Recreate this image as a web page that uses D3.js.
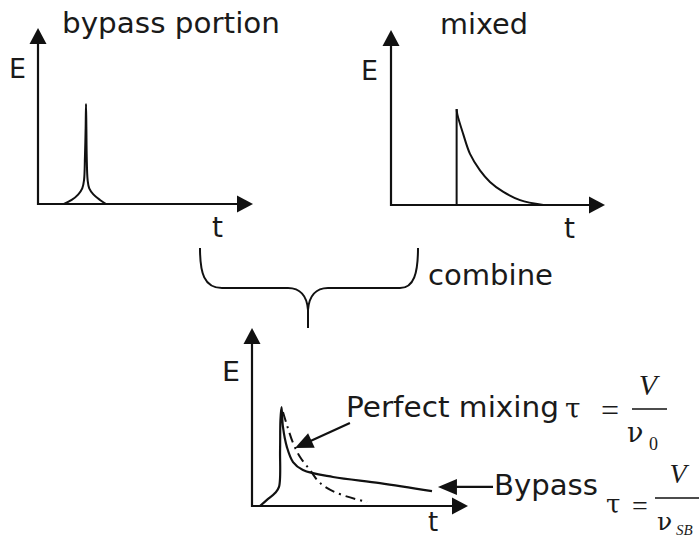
<!DOCTYPE html>
<html>
<head>
<meta charset="utf-8">
<script src="https://cdn.jsdelivr.net/npm/d3@7/dist/d3.min.js"></script>
<style>
html,body{margin:0;padding:0;background:#fff;}
svg{display:block;}
</style>
</head>
<body>
<svg id="chart" width="699" height="539"></svg>
<script>
// ---------- data (t, E in arbitrary units) ----------
const panelTitles = ["bypass portion", "mixed"];
const axisLabelE = "E";
const axisLabelT = "t";
const combineLabel = "combine";
const perfectLabel = "Perfect mixing";
const bypassLabel = "Bypass";

// top-left: bypass spike
const spikeT = [1.45, 1.88, 2.25, 2.47, 2.57, 2.62, 2.66, 2.68, 2.70, 2.72, 2.77, 2.86, 3.09, 3.46, 3.80];
const spikeE = [0.00, 0.23, 0.55, 0.89, 1.36, 2.69, 4.39, 5.68, 4.39, 2.69, 1.36, 0.89, 0.55, 0.23, 0.00];

// top-right: mixed (CSTR) response
const mixedT = [3.68, 3.68, 3.72, 4.05, 4.43, 4.99, 5.55, 6.30, 7.24, 8.54];
const mixedE = [0.00, 5.48, 5.18, 4.05, 2.92, 1.98, 1.32, 0.75, 0.28, 0.00];

// bottom: combined response with bypass (solid)
const bypassT = [0.44, 0.83, 1.28, 1.50, 1.56, 1.58, 1.64, 1.72, 1.94, 2.28, 2.83, 4.50, 7.11, 10.0];
const bypassE = [0.00, 0.34, 0.73, 1.07, 3.15, 4.83, 5.56, 4.44, 3.31, 2.47, 2.02, 1.63, 1.29, 0.84];

// bottom: perfect mixing (dash-dot)
const perfectT = [1.72, 1.94, 2.28, 2.67, 3.22, 3.78, 4.72, 6.39];
const perfectE = [5.28, 4.55, 3.54, 2.75, 2.02, 1.29, 0.73, 0.22];

// annotation arrows in bottom-panel units: [tailT, tailE, tipT, tipE]
const perfectArrow = [5.44, 4.66, 2.39, 3.26];
const bypassArrow = [13.39, 1.07, 10.33, 1.07];

// ---------- drawing ----------
const svg = d3.select("#chart");
const ink = "#111";
const sans = "'DejaVu Sans', Verdana, sans-serif";
const serif = "'Liberation Serif', 'Times New Roman', serif";
const greek = "'DejaVu Serif', serif";

function arrowHead(g, x1, y1, x2, y2, len, half) {
  const dx = x2 - x1, dy = y2 - y1, d = Math.hypot(dx, dy);
  const ux = dx / d, uy = dy / d;
  const bx = x2 - ux * len, by = y2 - uy * len;
  g.append("line").attr("x1", x1).attr("y1", y1).attr("x2", bx + ux).attr("y2", by + uy)
    .attr("stroke", ink).attr("stroke-width", 2.2);
  g.append("path")
    .attr("d", `M${x2},${y2}L${bx - uy * half},${by + ux * half}L${bx + uy * half},${by - ux * half}Z`)
    .attr("fill", ink);
}

function panel(cfg) {
  const x = d3.scaleLinear().domain([0, 12]).range([cfg.x0, cfg.x1]);
  const y = d3.scaleLinear().domain([0, 10]).range([cfg.y0, cfg.y1]);
  const g = svg.append("g");
  arrowHead(g, x(0), y(0) + 1, x(0), y(10), 16, 8.5);
  arrowHead(g, x(0) - 1, y(0), x(12), y(0), 16, 8.5);
  return {x, y, g};
}

const line = (x, y) => d3.line().x(d => x(d[0])).y(d => y(d[1])).curve(d3.curveCatmullRom.alpha(0.5));
const zip = (a, b) => a.map((v, i) => [v, b[i]]);

// panel 1
const p1 = panel({x0: 38, x1: 253, y0: 204, y1: 28});
p1.g.append("path").attr("d", line(p1.x, p1.y)(zip(spikeT, spikeE)))
  .attr("fill", "none").attr("stroke", ink).attr("stroke-width", 2);

// panel 2
const p2 = panel({x0: 391, x1: 605, y0: 205, y1: 30});
p2.g.append("path").attr("d", d3.line().x(d => p2.x(d[0])).y(d => p2.y(d[1]))(zip(mixedT, mixedE).slice(0, 2)))
  .attr("fill", "none").attr("stroke", ink).attr("stroke-width", 2);
p2.g.append("path").attr("d", line(p2.x, p2.y)(zip(mixedT, mixedE).slice(1)))
  .attr("fill", "none").attr("stroke", ink).attr("stroke-width", 2);

// panel 3
const p3 = panel({x0: 252, x1: 468, y0: 506, y1: 328});
p3.g.append("path").attr("d", line(p3.x, p3.y)(zip(bypassT, bypassE)))
  .attr("fill", "none").attr("stroke", ink).attr("stroke-width", 2.2);
p3.g.append("path").attr("d", line(p3.x, p3.y)(zip(perfectT, perfectE)))
  .attr("fill", "none").attr("stroke", ink).attr("stroke-width", 2)
  .attr("stroke-dasharray", "10,5,2,5");
arrowHead(p3.g, p3.x(perfectArrow[0]), p3.y(perfectArrow[1]), p3.x(perfectArrow[2]), p3.y(perfectArrow[3]), 18, 8);
arrowHead(p3.g, p3.x(bypassArrow[0]), p3.y(bypassArrow[1]), p3.x(bypassArrow[2]), p3.y(bypassArrow[3]), 19, 8);

// brace
svg.append("path")
  .attr("d", "M200,248 C200,273 204,288 222,288 L288,288 C300,288 307,296 308,310 L308,328 M308,310 C309,296 316,288 328,288 L400,288 C414,288 418,273 418,248")
  .attr("fill", "none").attr("stroke", ink).attr("stroke-width", 2);

// text
function txt(s, x, y, size, opts = {}) {
  const t = svg.append("text").attr("x", x).attr("y", y).text(s)
    .attr("font-family", opts.family || sans).attr("font-size", size)
    .attr("fill", "#1a1a1a");
  if (opts.len) t.attr("textLength", opts.len).attr("lengthAdjust", opts.adj || "spacingAndGlyphs");
  if (opts.italic) t.attr("font-style", "italic");
  if (opts.anchor) t.attr("text-anchor", opts.anchor);
  return t;
}
txt(panelTitles[0], 62, 33, 28, {len: 218});
txt(panelTitles[1], 440, 34, 28, {len: 88});
txt(axisLabelE, 9, 78, 27, {len: 17});
txt(axisLabelE, 361, 80, 27, {len: 17});
txt(axisLabelE, 222, 381, 27, {len: 18});
txt(axisLabelT, 212, 237, 28);
txt(axisLabelT, 564, 238, 28);
txt(axisLabelT, 428, 531, 26);
txt(combineLabel, 428, 285, 28, {len: 125});
txt(perfectLabel, 346, 417, 28, {len: 213});
txt(bypassLabel, 494, 495, 28, {len: 104});

// formula 1: tau = V / nu0
txt("τ", 565, 418, 28, {family: greek});
txt("=", 601, 421, 32, {family: serif});
svg.append("line").attr("x1", 632).attr("x2", 667).attr("y1", 409).attr("y2", 409).attr("stroke", ink).attr("stroke-width", 1.6);
txt("V", 648, 395, 30, {family: serif, italic: true, anchor: "middle"});
txt("ν", 627, 442, 27, {family: greek});
txt("0", 649, 450, 18, {family: serif});

// formula 2: tau = V / nu_SB
txt("τ", 606, 513, 26, {family: greek});
txt("=", 632, 515, 28, {family: serif});
svg.append("line").attr("x1", 655).attr("x2", 699).attr("y1", 498).attr("y2", 498).attr("stroke", ink).attr("stroke-width", 1.6);
txt("V", 678, 483, 28, {family: serif, italic: true, anchor: "middle"});
txt("ν", 657, 530, 25, {family: greek});
txt("SB", 676, 535, 15, {family: serif, italic: true});
</script>
</body>
</html>
